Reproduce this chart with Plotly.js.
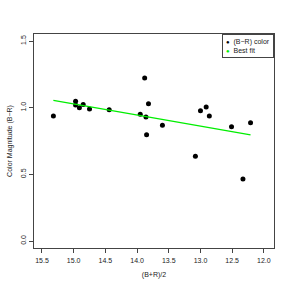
<!DOCTYPE html>
<html><head><meta charset="utf-8">
<script src="https://cdn.plot.ly/plotly-3.0.1.min.js"></script>
<style>html,body{margin:0;padding:0;background:#fff}</style>
</head><body><div id="chart" style="width:291px;height:291px"></div>
<script>
var avgMag = [15.32, 14.97, 14.97, 14.91, 14.85, 14.75, 14.44, 13.88, 13.95, 13.86, 13.82, 13.85, 13.60, 13.00, 12.91, 12.86, 12.51, 12.21, 13.08, 12.33];
var colorBR = [0.938, 1.048, 1.020, 1.000, 1.025, 0.990, 0.985, 1.223, 0.950, 0.930, 1.030, 0.797, 0.868, 0.978, 1.005, 0.938, 0.858, 0.888, 0.635, 0.465];
var fitX = [15.32, 12.21];
var fitY = [1.055, 0.797];
var legendLabels = ["(B\u2212R) color", "Best fit"];
var pointColor = "black", fitColor = "#00ee00";

var font = "Liberation Sans, Arial, sans-serif";
var traces = [
  {x: avgMag, y: colorBR, mode: "markers", type: "scatter", name: legendLabels[0],
   marker: {color: pointColor, size: 5}, showlegend: false},
  {x: fitX, y: fitY, mode: "lines", type: "scatter", name: legendLabels[1],
   line: {color: fitColor, width: 1.3}, showlegend: false}
];
var axisCommon = {showline: true, mirror: true, linecolor: "#444", linewidth: 1,
  ticks: "outside", ticklen: 4, tickcolor: "#444", showgrid: false, zeroline: false,
  tickfont: {family: font, size: 7, color: "#222"}};
var layout = {
  width: 291, height: 291,
  margin: {l: 34, r: 17, t: 34, b: 43},
  paper_bgcolor: "#fff", plot_bgcolor: "#fff",
  font: {family: font, size: 7, color: "#222"},
  xaxis: Object.assign({}, axisCommon, {range: [15.626, 11.84], tickvals: [15.5, 15, 14.5, 14, 13.5, 13, 12.5, 12],
    ticktext: ["15.5","15.0","14.5","14.0","13.5","13.0","12.5","12.0"], ticklabelstandoff: 2,
    title: {text: "(B+R)/2", font: {family: font, size: 7, color: "#222"}, standoff: 8}}),
  yaxis: Object.assign({}, axisCommon, {range: [-0.0525, 1.553], tickvals: [0, 0.5, 1, 1.5],
    ticktext: ["0.0","0.5","1.0","1.5"], tickangle: -90,
    title: {text: "Color Magnitude (B\u2212R)", font: {family: font, size: 7, color: "#222"}, standoff: 6}}),
  annotations: [{
    xref: "paper", yref: "paper", x: 1, y: 1, xanchor: "right", yanchor: "top",
    align: "left", showarrow: false,
    text: "<span style='color:" + pointColor + ";font-size:6px'>\u25CF</span>  " + legendLabels[0] +
          "<br><span style='color:" + fitColor + ";font-size:6px'>\u25CF</span>  " + legendLabels[1],
    font: {family: font, size: 7, color: "#222"},
    bordercolor: "#444", borderwidth: 1, borderpad: 3, bgcolor: "#fff"
  }]
};
Plotly.newPlot("chart", traces, layout, {displayModeBar: false, staticPlot: true});
</script></body></html>
